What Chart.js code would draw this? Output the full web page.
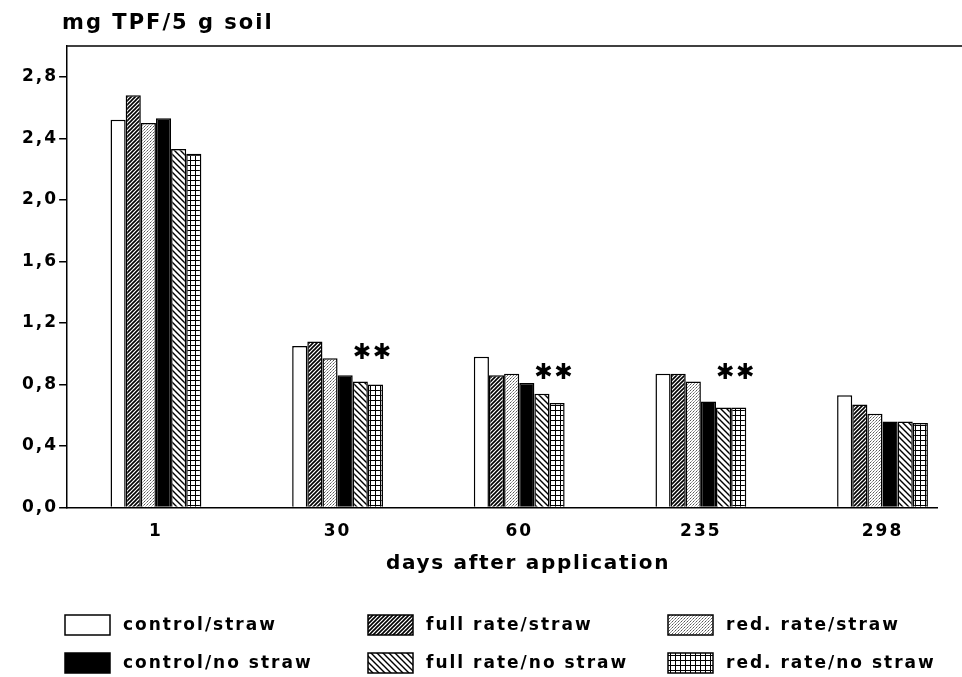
<!DOCTYPE html>
<html>
<head>
<meta charset="utf-8">
<script src="https://cdn.jsdelivr.net/npm/chart.js@4.4.1/dist/chart.umd.min.js"></script>
<style>
  html, body { margin: 0; padding: 0; background: #fff; }
  #wrap { width: 962px; height: 677px; }
</style>
</head>
<body>
<div id="wrap"><canvas id="chart"></canvas></div>
<script>
// Data
const days = ["1", "30", "60", "235", "298"];
const controlStraw = [2.52, 1.05, 0.98, 0.87, 0.73];
const fullStraw = [2.68, 1.08, 0.86, 0.87, 0.67];
const redStraw = [2.50, 0.97, 0.87, 0.82, 0.61];
const controlNoStraw = [2.53, 0.86, 0.81, 0.69, 0.56];
const fullNoStraw = [2.33, 0.82, 0.74, 0.65, 0.56];
const redNoStraw = [2.30, 0.80, 0.68, 0.65, 0.55];
const seriesLabels = ["control/straw", "full rate/straw", "red. rate/straw",
  "control/no straw", "full rate/no straw", "red. rate/no straw"];
const yTicks = [0, 0.4, 0.8, 1.2, 1.6, 2.0, 2.4, 2.8];
// "**" marks: day index and height in mg TPF
const starDays = [1, 2, 3];
const starValues = [1.0, 0.875, 0.875];

const FONT = "'DejaVu Sans', Verdana, sans-serif";

// Fill patterns for the bars
function makePattern(kind) {
  const c = document.createElement("canvas");
  const size = { up: 4, dots: 3, down: 6, grid: 5 }[kind];
  c.width = size;
  c.height = size;
  const g = c.getContext("2d");
  g.fillStyle = "#fff";
  g.fillRect(0, 0, size, size);
  g.strokeStyle = "#000";
  g.fillStyle = "#000";
  if (kind === "up") {
    g.lineWidth = 1.6;
    g.beginPath();
    g.moveTo(-1, size + 1); g.lineTo(size + 1, -1);
    g.moveTo(-1, 1); g.lineTo(1, -1);
    g.moveTo(size - 1, size + 1); g.lineTo(size + 1, size - 1);
    g.stroke();
  } else if (kind === "down") {
    g.lineWidth = 1.4;
    g.beginPath();
    g.moveTo(-1, -1); g.lineTo(size + 1, size + 1);
    g.moveTo(size - 1, -1); g.lineTo(size + 1, 1);
    g.moveTo(-1, size - 1); g.lineTo(1, size + 1);
    g.stroke();
  } else if (kind === "dots") {
    g.fillStyle = "#555";
    g.fillRect(0, 0, 1, 1);
    g.fillStyle = "#999";
    g.fillRect(2, 1, 1, 1);
    g.fillRect(1, 2, 1, 1);
  } else if (kind === "grid") {
    g.fillRect(0, 0, size, 1);
    g.fillRect(0, 0, 1, size);
  }
  return g.createPattern(c, "repeat");
}

const fills = ["#fff", makePattern("up"), makePattern("dots"), "#000", makePattern("down"), makePattern("grid")];
const values = [controlStraw, fullStraw, redStraw, controlNoStraw, fullNoStraw, redNoStraw];

const datasets = values.map((arr, i) => ({
  label: seriesLabels[i],
  data: arr.map((v, j) => ({ x: j, y: v })),
  backgroundColor: fills[i],
  borderColor: "#000",
  borderWidth: 1.5,
  borderSkipped: "bottom",
  categoryPercentage: 0.5,
  barPercentage: 1.0
}));

// letter spacing, axis texts, top line, stars and legend
const extras = {
  id: "extras",
  beforeLayout(chart) { chart.ctx.letterSpacing = "2px"; },
  beforeDraw(chart) { chart.ctx.letterSpacing = "2px"; },
  afterDraw(chart) {
    const { ctx, chartArea, scales } = chart;
    ctx.save();
    // top frame line (runs to the page edge)
    ctx.strokeStyle = "#000";
    ctx.lineWidth = 1.5;
    ctx.beginPath();
    ctx.moveTo(chartArea.left, chartArea.top);
    ctx.lineTo(chart.width, chartArea.top);
    ctx.stroke();

    // y axis unit
    ctx.fillStyle = "#000";
    ctx.letterSpacing = "2px";
    ctx.font = "bold 21px " + FONT;
    ctx.textAlign = "left";
    ctx.textBaseline = "middle";
    ctx.fillText("mg TPF/5 g soil", chartArea.left - 5, 24);

    // x axis title
    ctx.letterSpacing = "1.7px";
    ctx.font = "bold 20px " + FONT;
    ctx.textAlign = "center";
    ctx.fillText("days after application", 528, chartArea.bottom + 56);

    // significance stars over the last two bars
    ctx.letterSpacing = "0px";
    ctx.font = "bold 22px " + FONT;
    ctx.textBaseline = "middle";
    starDays.forEach((d, k) => {
      const y = scales.y.getPixelForValue(starValues[k]);
      const mid = (chart.getDatasetMeta(4).data[d].x + chart.getDatasetMeta(5).data[d].x) / 2 + 4;
      [-10, 10].forEach(dx => ctx.fillText("\u2731", mid + dx, y));
    });

    // legend, 3 columns x 2 rows
    const colX = [65, 368, 668];
    const rowY = [625, 663];
    ctx.letterSpacing = "2px";
    ctx.font = "bold 17px " + FONT;
    ctx.textAlign = "left";
    ctx.textBaseline = "middle";
    seriesLabels.forEach((lab, i) => {
      const x = colX[i % 3];
      const y = rowY[Math.floor(i / 3)];
      ctx.fillStyle = fills[i];
      ctx.fillRect(x, y - 10, 45, 20);
      ctx.strokeStyle = "#000";
      ctx.lineWidth = 1.5;
      ctx.strokeRect(x, y - 10, 45, 20);
      ctx.fillStyle = "#000";
      ctx.fillText(lab, x + 58, y + 1);
    });
    ctx.restore();
  }
};

new Chart(document.getElementById("chart"), {
  type: "bar",
  data: { datasets },
  options: {
    responsive: true,
    maintainAspectRatio: false,
    animation: false,
    events: [],
    layout: { padding: { left: 21, right: 25, top: 46, bottom: 121 } },
    plugins: { legend: { display: false }, tooltip: { enabled: false } },
    scales: {
      x: {
        type: "linear",
        offset: false,
        min: -0.489,
        max: 4.30,
        afterBuildTicks: s => { s.ticks = days.map((d, i) => ({ value: i })); },
        ticks: {
          callback: v => days[v],
          color: "#000",
          font: { family: FONT, size: 17, weight: "bold" },
          padding: 14,
          maxRotation: 0,
          autoSkip: false
        },
        grid: { display: false, drawTicks: false },
        border: { display: true, color: "#000", width: 1.5 }
      },
      y: {
        min: 0,
        max: 3.0,
        afterBuildTicks: s => { s.ticks = yTicks.map(v => ({ value: v })); },
        ticks: {
          callback: v => v.toFixed(1).replace(".", ","),
          color: "#000",
          font: { family: FONT, size: 17, weight: "bold" },
          padding: 1
        },
        grid: { drawOnChartArea: false, drawTicks: true, tickLength: 8, color: "#000", lineWidth: 1.5 },
        border: { display: true, color: "#000", width: 1.5 }
      }
    }
  },
  plugins: [extras]
});
</script>
</body>
</html>
